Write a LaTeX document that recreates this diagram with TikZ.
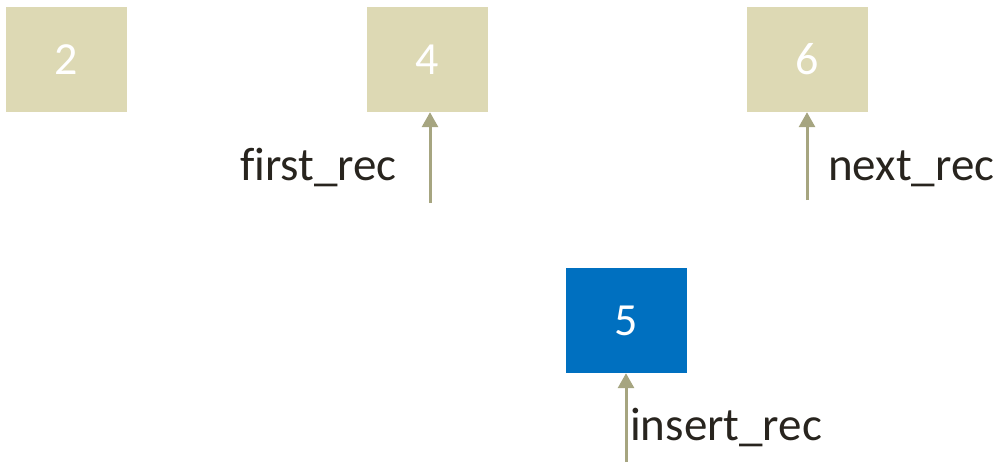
\documentclass[tikz,border=0pt]{standalone}
\usepackage{fontspec}
\setmainfont[Ligatures=CommonOff]{Carlito}
\usetikzlibrary{arrows.meta}
\definecolor{boxbeige}{RGB}{221,217,180}
\definecolor{boxblue}{RGB}{0,112,192}
\definecolor{arrowcol}{RGB}{166,165,128}
\definecolor{textcol}{RGB}{40,36,30}
\begin{document}
\begin{tikzpicture}[x=1pt,y=-1pt,
  recbox/.style={fill=boxbeige,draw=none,minimum width=121pt,minimum height=105pt,inner sep=0pt,text=white,font=\fontsize{46}{46}\selectfont},
  newbox/.style={recbox,fill=boxblue},
  ptr/.style={draw=arrowcol,line width=3pt,-{Triangle[width=16pt,length=15pt]}},
  lbl/.style={inner sep=0pt,text=textcol,font=\fontsize{47}{47}\selectfont}]
\useasboundingbox (0,0) rectangle (1002,463);
\node[recbox] (b2) at (66.5,59.5) {2};
\node[recbox] (b4) at (427,59.5) {4};
\node[recbox] (b6) at (807,59.5) {6};
\node[newbox] (b5) at (626,320.5) {5};
\coordinate (p1) at (430,203);
\coordinate (p2) at (807,200);
\coordinate (p3) at (626,462);
\draw[ptr] (p1) -- (p1 |- b4.south);
\draw[ptr] (p2) -- (p2 |- b6.south);
\draw[ptr] (p3) -- (p3 |- b5.south);
\node[lbl,anchor=base east] (l1) at (397,180) {first\_rec};
\node[lbl,anchor=base west] (l2) at (828,180) {next\_rec};
\node[lbl,anchor=base west] (l3) at (630,440) {insert\_rec};
\end{tikzpicture}
\end{document}
